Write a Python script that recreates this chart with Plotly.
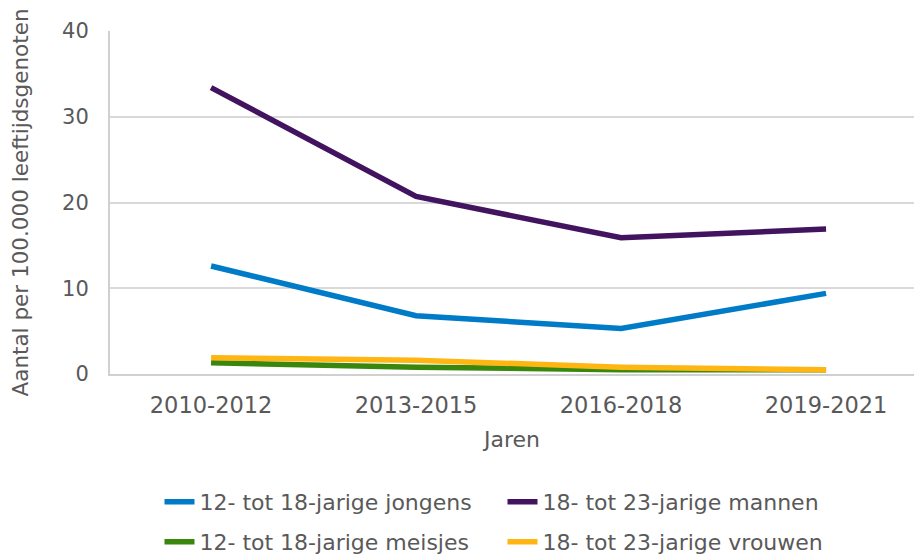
import plotly.graph_objects as go

jaren = ["2010-2012", "2013-2015", "2016-2018", "2019-2021"]
jongens = [12.6, 6.8, 5.3, 9.4]
mannen = [33.4, 20.7, 15.9, 16.9]
meisjes = [1.3, 0.8, 0.5, 0.5]
vrouwen = [1.9, 1.6, 0.8, 0.5]
y_ticks = [0, 10, 20, 30, 40]

series = [
    ("12- tot 18-jarige jongens", jongens, "#007BC7", "legend"),
    ("18- tot 23-jarige mannen", mannen, "#42145F", "legend"),
    ("12- tot 18-jarige meisjes", meisjes, "#39870C", "legend2"),
    ("18- tot 23-jarige vrouwen", vrouwen, "#FFB612", "legend2"),
]

FONT = "DejaVu Sans"
TXT = "#595959"

fig = go.Figure()
for name, vals, col, lg in series:
    fig.add_trace(go.Scatter(
        x=jaren, y=vals, name=name, mode="lines",
        line=dict(color=col, width=5.5),
        legend=lg,
    ))

leg_common = dict(
    orientation="h", xref="container", yref="container",
    xanchor="left", yanchor="middle",
    entrywidth=298, entrywidthmode="pixels",
    font=dict(size=22, color=TXT), bgcolor="rgba(0,0,0,0)",
)

fig.update_layout(
    width=914, height=556,
    margin=dict(l=110, r=0, t=31, b=181.5, autoexpand=False),
    paper_bgcolor="white", plot_bgcolor="white",
    font=dict(family=FONT, size=22, color=TXT),
    xaxis=dict(
        type="category", range=[-0.493, 3.429], automargin=False,
        showgrid=False, showline=True, linecolor="#D0D0D0", linewidth=2,
        ticks="", tickfont=dict(size=22.5, color=TXT),
        ticklabelstandoff=10,
        title=dict(text="Jaren", font=dict(size=22, color=TXT), standoff=15),
    ),
    yaxis=dict(
        range=[0, 40], tickvals=y_ticks, ticktext=[str(v) for v in y_ticks],
        automargin=False,
        showgrid=True, gridcolor="#D9D9D9", gridwidth=2,
        showline=True, linecolor="#D0D0D0", linewidth=2,
        zeroline=False, ticks="", tickfont=dict(size=21, color=TXT),
        ticklabelstandoff=15,
        title=dict(text="Aantal per 100.000 leeftijdsgenoten", font=dict(size=21.5, color=TXT), standoff=28),
    ),
    legend=dict(x=0.1745, y=1 - 502 / 556, **leg_common),
    legend2=dict(x=0.1745, y=1 - 542 / 556, **leg_common),
    showlegend=True,
)

fig.write_html(
    "out.html",
    config={"displayModeBar": False},
    post_script="document.body.style.margin='0';document.body.style.overflow='hidden';",
)
